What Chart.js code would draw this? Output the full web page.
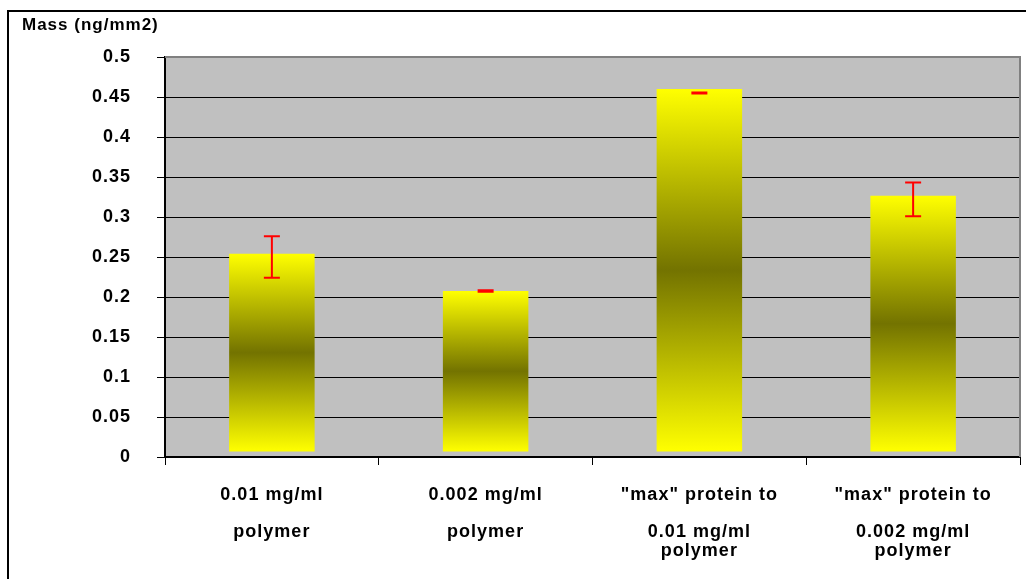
<!DOCTYPE html>
<html>
<head>
<meta charset="utf-8">
<script src="https://cdn.jsdelivr.net/npm/chart.js@4"></script>
<style>
  html, body { margin: 0; padding: 0; background: #fff; overflow: hidden; }
  #frame { position: absolute; left: 7px; top: 10px; width: 1100px; height: 700px; border: 2px solid #000; }
  #wrap { position: absolute; left: 0; top: 0; width: 1026px; height: 579px; }
</style>
</head>
<body>
<div id="frame"></div>
<div id="wrap"><canvas id="chart"></canvas></div>
<script>
const categories = [
    ["0.01 mg/ml", "", "polymer"],
    ["0.002 mg/ml", "", "polymer"],
    ["\"max\" protein to", "", "0.01 mg/ml", "polymer"],
    ["\"max\" protein to", "", "0.002 mg/ml", "polymer"]
]
const massValues = [0.254, 0.2075, 0.46, 0.3265]
const errLow = [0.224, 0.2065, 0.4545, 0.301]
const errHigh = [0.276, 0.2085, 0.4555, 0.343]
const yTicks = [0, 0.05, 0.1, 0.15, 0.2, 0.25, 0.3, 0.35, 0.4, 0.45, 0.5]
const barBase = 0.007

const fontFamily = '"Liberation Sans", Arial, sans-serif'

function barGradient(ctx) {
    const chart = ctx.chart
    if (!chart.chartArea) return '#ffff00'
    const y = chart.scales.y
    const top = y.getPixelForValue(massValues[ctx.dataIndex])
    const bottom = y.getPixelForValue(barBase)
    const g = chart.ctx.createLinearGradient(0, top, 0, bottom)
    g.addColorStop(0, '#ffff00')
    g.addColorStop(0.5, '#737300')
    g.addColorStop(1, '#ffff00')
    return g
}

const plotBackground = {
    id: 'plotBackground',
    beforeDraw(chart) {
        const { ctx, chartArea: a } = chart
        ctx.save()
        ctx.fillStyle = '#c0c0c0'
        ctx.fillRect(a.left, a.top, a.right - a.left, a.bottom - a.top)
        ctx.restore()
        ctx.letterSpacing = '1px'
    },
    afterDraw(chart) {
        const { ctx, chartArea: a } = chart
        ctx.save()
        ctx.strokeStyle = '#808080'
        ctx.lineWidth = 2
        ctx.beginPath()
        ctx.moveTo(a.left, a.top)
        ctx.lineTo(a.right, a.top)
        ctx.lineTo(a.right, a.bottom)
        ctx.stroke()
        ctx.fillStyle = '#000'
        ctx.font = 'bold 17px ' + fontFamily
        ctx.textBaseline = 'middle'
        ctx.textAlign = 'left'
        ctx.fillText('Mass (ng/mm2)', 22, 25)
        ctx.restore()
    }
}

const errorBars = {
    id: 'errorBars',
    afterDatasetsDraw(chart) {
        const { ctx } = chart
        const y = chart.scales.y
        const meta = chart.getDatasetMeta(0)
        ctx.save()
        ctx.strokeStyle = '#ff0000'
        ctx.lineWidth = 2
        meta.data.forEach((bar, i) => {
            const x = bar.x
            const yl = y.getPixelForValue(errLow[i])
            const yh = y.getPixelForValue(errHigh[i])
            ctx.beginPath()
            ctx.moveTo(x, yl); ctx.lineTo(x, yh)
            ctx.moveTo(x - 8, yl); ctx.lineTo(x + 8, yl)
            ctx.moveTo(x - 8, yh); ctx.lineTo(x + 8, yh)
            ctx.stroke()
        })
        ctx.restore()
    }
}

new Chart(document.getElementById('chart'), {
    type: 'bar',
    data: {
        labels: categories,
        datasets: [{
            data: massValues,
            base: barBase,
            backgroundColor: barGradient,
            borderWidth: 0,
            categoryPercentage: 0.8,
            barPercentage: 0.5
        }]
    },
    plugins: [plotBackground, errorBars],
    options: {
        responsive: true,
        maintainAspectRatio: false,
        animation: false,
        layout: { padding: { top: 57, right: 6, bottom: 0, left: 0 } },
        plugins: {
            legend: { display: false },
            tooltip: { enabled: false }
        },
        scales: {
            x: {
                grid: {
                    display: true,
                    drawOnChartArea: false,
                    offset: true,
                    color: '#000',
                    tickLength: 8
                },
                border: { color: '#000', width: 2 },
                ticks: {
                    color: '#000',
                    font: { family: fontFamily, size: 18, weight: 'bold', lineHeight: 1.03 },
                    padding: 21,
                    maxRotation: 0,
                    autoSkip: false
                },
                afterFit(scale) { scale.height = 122 }
            },
            y: {
                min: 0,
                max: 0.5,
                afterBuildTicks(scale) { scale.ticks = yTicks.map(v => ({ value: v })) },
                grid: {
                    color: '#000',
                    tickLength: 8
                },
                border: { color: '#000', width: 2 },
                ticks: {
                    color: '#000',
                    font: { family: fontFamily, size: 18, weight: 'bold' },
                    padding: 26,
                    callback: v => String(v)
                },
                afterFit(scale) { scale.width = 165 }
            }
        }
    }
})
</script>
</body>
</html>
